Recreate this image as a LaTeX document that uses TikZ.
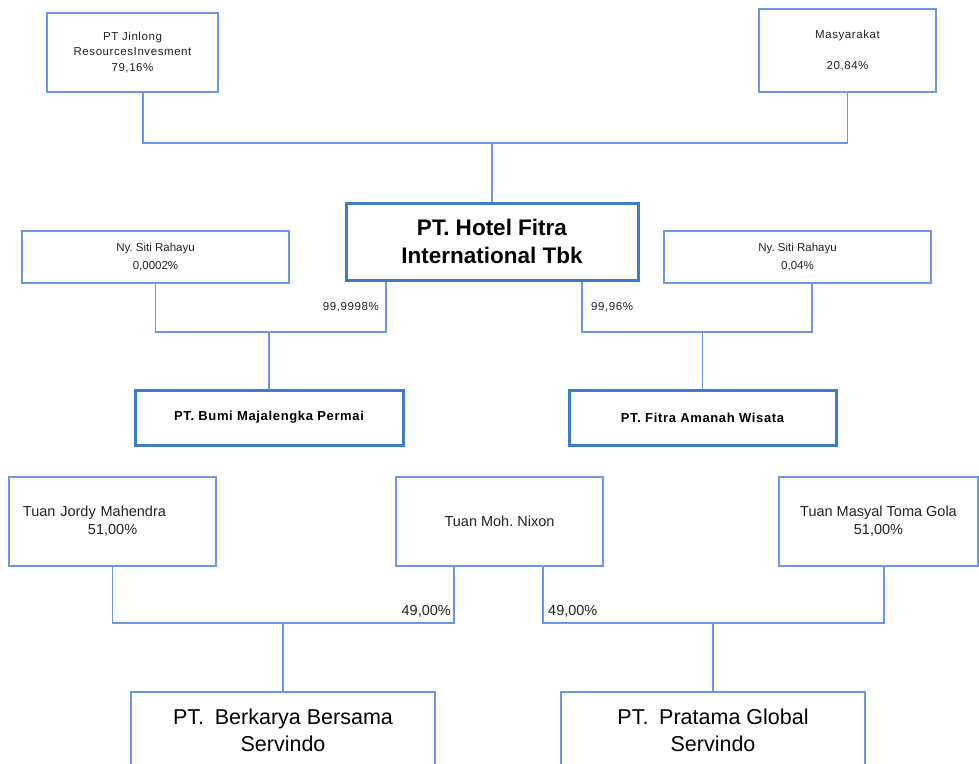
\documentclass[tikz,border=0pt]{standalone}
\usepackage{fontspec}
\setmainfont{Liberation Sans}
\newfontfamily\trk[LetterSpace=5]{Liberation Sans}
\definecolor{lineblue}{HTML}{6E96E6}
\definecolor{boxblue}{HTML}{3C7DC3}
\definecolor{txt}{HTML}{222222}
\frenchspacing
\begin{document}
\begin{tikzpicture}[x=1pt,y=-1pt,
  thinbox/.style={draw=lineblue, line width=1.5pt, rectangle, inner sep=0pt, align=center, text=txt},
  thickbox/.style={draw=boxblue, line width=3pt, rectangle, inner sep=0pt, align=center, text=black},
  conn/.style={draw=lineblue, line width=1.5pt},
  pct/.style={inner sep=0pt, text=txt}]
\useasboundingbox (0,0) rectangle (979,763);
% top level
\node[thinbox, minimum width=171pt, minimum height=79pt, font=\trk\fontsize{11.5}{15.5}\selectfont] (jin) at (132.5,52.5) {PT Jinlong\\ResourcesInvesment\\79,16\%};
\node[thinbox, minimum width=177pt, minimum height=83pt, font=\trk\fontsize{11.5}{15}\selectfont] (mas) at (847.5,50.5) {Masyarakat\\[16pt]20,84\%};
\node[thickbox, minimum width=292pt, minimum height=77pt, font=\bfseries\fontsize{22.5}{28}\selectfont] (hotel) at (492,241.5) {PT. Hotel Fitra\\International Tbk};
\coordinate (j1) at (hotel.north |- 0,143);
\draw[conn] ([xshift=10.5pt]jin.south) |- (j1);
\draw[conn] (mas.south) |- (j1);
\draw[conn] (j1) -- (hotel.north);
% second level
\node[thinbox, minimum width=267pt, minimum height=52pt, font=\fontsize{11.5}{18}\selectfont] (nyl) at (155.5,257) {Ny. Siti Rahayu\\0,0002\%};
\node[thinbox, minimum width=267pt, minimum height=52pt, font=\fontsize{11.5}{18}\selectfont] (nyr) at (797.5,257) {Ny. Siti Rahayu\\0,04\%};
\node[thickbox, minimum width=268pt, minimum height=55pt, font=\trk\bfseries\fontsize{13}{15}\selectfont] (bumi) at (269,417.5) {PT. Bumi Majalengka Permai};
\node[thickbox, minimum width=267pt, minimum height=55pt, font=\trk\bfseries\fontsize{13}{15}\selectfont] (fitra) at (702.5,417.5) {PT. Fitra Amanah Wisata};
\coordinate (j2) at (bumi.north |- 0,332);
\coordinate (j3) at (fitra.north |- 0,332);
\draw[conn] (nyl.south) |- (j2);
\draw[conn] ([xshift=-106pt]hotel.south) |- (j2);
\draw[conn] (j2) -- (bumi.north);
\draw[conn] ([xshift=90pt]hotel.south) |- (j3);
\draw[conn] ([xshift=14.5pt]nyr.south) |- (j3);
\draw[conn] (j3) -- (fitra.north);
\node[pct, anchor=east, font=\trk\fontsize{11.5}{14}\selectfont] (p1) at (379,307) {99,9998\%};
\node[pct, anchor=west, font=\trk\fontsize{11.5}{14}\selectfont] (p2) at (591,307) {99,96\%};
% third level
\node[thinbox, minimum width=207pt, minimum height=89pt, align=left, text width=179pt, font=\fontsize{14.5}{18}\selectfont] (jordy) at (112.5,521.5) {Tuan Jordy Mahendra\\\hspace*{65pt}51,00\%};
\node[thinbox, minimum width=207pt, minimum height=89pt, font=\fontsize{14.5}{18}\selectfont] (nixon) at (499.5,521.5) {Tuan Moh. Nixon};
\node[thinbox, minimum width=199pt, minimum height=89pt, font=\fontsize{14.5}{18}\selectfont] (masyal) at (878.5,521.5) {Tuan Masyal Toma Gola\\51,00\%};
\node[thinbox, minimum width=304pt, minimum height=77pt, text=black, font=\fontsize{21.5}{27}\selectfont] (berk) at (283,730.5) {PT.\hspace{0.5em}Berkarya Bersama\\Servindo};
\node[thinbox, minimum width=304pt, minimum height=77pt, text=black, font=\fontsize{21.5}{27}\selectfont] (prat) at (713,730.5) {PT.\hspace{0.5em}Pratama Global\\Servindo};
\coordinate (j4) at (berk.north |- 0,623);
\coordinate (j5) at (prat.north |- 0,623);
\draw[conn] (jordy.south) |- (j4);
\draw[conn] ([xshift=-45.5pt]nixon.south) |- (j4);
\draw[conn] (j4) -- (berk.north);
\draw[conn] ([xshift=43.5pt]nixon.south) |- (j5);
\draw[conn] ([xshift=5.5pt]masyal.south) |- (j5);
\draw[conn] (j5) -- (prat.north);
\node[pct, anchor=east, font=\fontsize{14.5}{18}\selectfont] (p3) at (451,611) {49,00\%};
\node[pct, anchor=west, font=\fontsize{14.5}{18}\selectfont] (p4) at (548,611) {49,00\%};
\end{tikzpicture}
\end{document}
